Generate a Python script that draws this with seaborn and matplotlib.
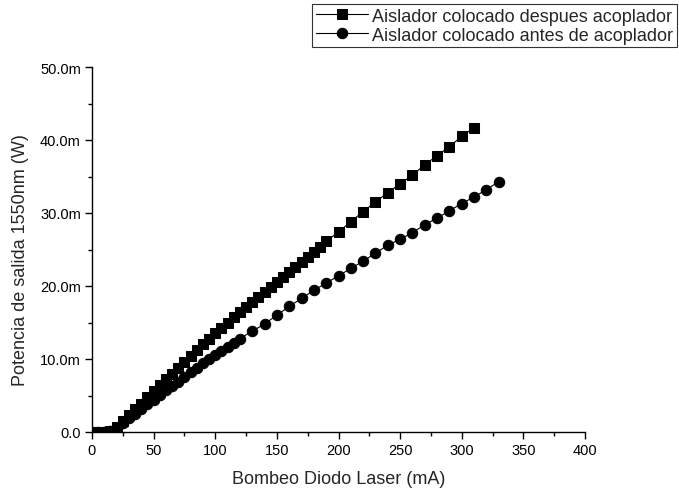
import matplotlib
matplotlib.use("Agg")
import matplotlib.pyplot as plt
import seaborn as sns
import pandas as pd
from matplotlib.ticker import MultipleLocator, FuncFormatter

# Pump current (mA) and output power (mW) for the two isolator placements
corriente_despues = [0, 5, 10, 15, 20, 25, 30, 35, 40, 45, 50, 55, 60, 65, 70, 75, 80, 85, 90, 95,
                     100, 105, 110, 115, 120, 125, 130, 135, 140, 145, 150, 155, 160, 165, 170,
                     175, 180, 185, 190,
                     200, 210, 220, 230, 240, 250, 260, 270, 280, 290, 300, 310]
potencia_despues = [0.0, 0.0, 0.0, 0.1, 0.7, 1.5, 2.3, 3.1, 3.9, 4.8, 5.6, 6.4, 7.2, 8.0, 8.8, 9.6, 10.4, 11.2, 12.0, 12.8,
                    13.6, 14.3, 15.0, 15.7, 16.4, 17.1, 17.8, 18.5, 19.2, 19.8, 20.5, 21.2, 21.9, 22.6, 23.3,
                    24.0, 24.7, 25.4, 26.1,
                    27.4, 28.8, 30.2, 31.5, 32.8, 34.0, 35.2, 36.6, 37.85, 39.1, 40.5, 41.7]

corriente_antes = [0, 5, 10, 15, 20, 25, 30, 35, 40, 45, 50, 55, 60, 65, 70, 75, 80, 85,
                   90, 95, 100, 105, 110, 115, 120, 130, 140, 150, 160, 170, 180, 190,
                   200, 210, 220, 230, 240, 250, 260, 270, 280, 290, 300, 310, 320, 330]
potencia_antes = [0.0, 0.0, 0.0, 0.1, 0.6, 1.2, 1.9, 2.5, 3.2, 3.8, 4.4, 5.1, 5.7, 6.3, 6.9, 7.6, 8.2, 8.8,
                  9.4, 10.0, 10.6, 11.1, 11.7, 12.2, 12.8, 13.8, 14.8, 16.0, 17.2, 18.3, 19.4, 20.4,
                  21.4, 22.4, 23.4, 24.5, 25.6, 26.4, 27.3, 28.4, 29.3, 30.3, 31.3, 32.2, 33.2, 34.3]

etiqueta_despues = "Aislador colocado despues acoplador"
etiqueta_antes = "Aislador colocado antes de acoplador"

x_ticks = [0, 50, 100, 150, 200, 250, 300, 350, 400]
y_ticks = [0, 10, 20, 30, 40, 50]

sns.set_style("ticks")
plt.rcParams["font.family"] = ["Liberation Sans", "DejaVu Sans"]

fig = plt.figure(figsize=(6.79, 4.89), dpi=100)
ax = fig.add_axes([92 / 679, 1 - 433 / 489, (585 - 92) / 679, (433 - 68) / 489])

df_d = pd.DataFrame({"x": corriente_despues, "y": potencia_despues})
df_a = pd.DataFrame({"x": corriente_antes, "y": potencia_antes})

sns.lineplot(data=df_d, x="x", y="y", ax=ax, color="black", linewidth=0.8,
             marker="s", markersize=7, markeredgecolor="black", label=etiqueta_despues)
sns.lineplot(data=df_a, x="x", y="y", ax=ax, color="black", linewidth=0.8,
             marker="o", markersize=7.5, markeredgecolor="black", label=etiqueta_antes)

ax.set_xlim(0, 400)
ax.set_ylim(0, 50)
ax.set_xticks(x_ticks)
ax.set_yticks(y_ticks)
ax.xaxis.set_minor_locator(MultipleLocator(25))
ax.yaxis.set_minor_locator(MultipleLocator(5))
ax.yaxis.set_major_formatter(FuncFormatter(lambda v, p: "0.0" if v == 0 else f"{v:.1f}m"))

ax.tick_params(axis="both", which="major", direction="out", length=5, width=1,
               labelsize=10.5, color="black", labelcolor="black", pad=3)
ax.tick_params(axis="both", which="minor", direction="out", length=3, width=1, color="black")

for side in ["top", "right"]:
    ax.spines[side].set_visible(False)
for side in ["left", "bottom"]:
    ax.spines[side].set_color("black")
    ax.spines[side].set_linewidth(1)

ax.set_xlabel("Bombeo Diodo Laser (mA)", fontsize=13, labelpad=9)
ax.set_ylabel("Potencia de salida 1550nm (W)", fontsize=13)
ax.yaxis.set_label_coords(-0.128, 0.475)

ax.get_legend().remove()
handles, labels = ax.get_legend_handles_labels()
leg = fig.legend(handles, labels, loc="upper right", bbox_to_anchor=(677 / 679, 1 - 5 / 489),
                 fontsize=13, frameon=True, fancybox=False, edgecolor="black",
                 handlelength=2.9, handletextpad=0.25, borderpad=0.2, labelspacing=0.12,
                 borderaxespad=0)
leg.get_frame().set_linewidth(0.8)

fig.savefig("out.png", dpi=100)
